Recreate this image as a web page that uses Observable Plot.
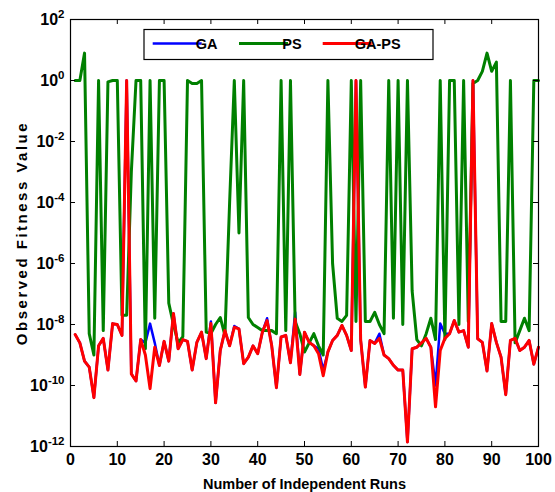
<!DOCTYPE html>
<html><head><meta charset="utf-8">
<script src="https://cdn.jsdelivr.net/npm/d3@7"></script>
<script src="https://cdn.jsdelivr.net/npm/@observablehq/plot@0.6"></script>
<style>
body{margin:0;background:#fff}
svg text{font-family:"Liberation Sans",Arial,sans-serif;font-weight:bold;fill:#000}
g[aria-label="x-axis tick label"] text, g[aria-label="y-axis tick label"] text{font-family:"Liberation Sans Narrow","Arial Narrow","Liberation Sans",sans-serif;font-size:16px}
</style></head><body><div id="chart"></div><script>
const runs = d3.range(1, 101);
const seriesNames = ["GA", "PS", "GA-PS"];
const seriesColors = ["#0000ff", "#008000", "#ff0000"];
const xTicks = [0, 10, 20, 30, 40, 50, 60, 70, 80, 90, 100];
const yTicks = [1e-12, 1e-10, 1e-8, 1e-6, 1e-4, 1e-2, 1e0, 1e2];

const gapsValues = [
 4.7e-9, 2.5e-9, 6.3e-10, 4.0e-10, 4.0e-11, 2.0e-9, 3.5e-9, 3.2e-10, 1.07e-8, 1.0e-8,
 4.4e-9, 1.0, 2.4e-10, 1.4e-10, 3.2e-9, 1.0e-9, 7.9e-11, 1.8e-9, 4.5e-10, 2.8e-9,
 6.3e-10, 2.3e-8, 1.6e-9, 3.2e-9, 2.8e-9, 3.2e-10, 2.6e-9, 5.6e-9, 7.6e-10, 1.07e-8,
 2.7e-11, 1.4e-9, 6.3e-9, 2.0e-9, 8.1e-9, 7.2e-9, 5.2e-10, 8.5e-10, 2.0e-9, 1.1e-9,
 5.6e-9, 1.35e-8, 2.0e-9, 8.5e-11, 3.9e-9, 4.4e-9, 5.6e-10, 1.5e-8, 2.3e-10, 5.6e-9,
 2.6e-9, 2.0e-9, 1.1e-9, 2.1e-10, 1.26e-9, 3.0e-9, 4.4e-9, 9.3e-9, 4.4e-9, 1.4e-9,
 1.0, 3.2e-9, 8.9e-11, 3.0e-9, 2.4e-9, 3.5e-9, 1.0e-9, 7.6e-10, 4.6e-10, 3.2e-10,
 3.2e-10, 1.4e-12, 1.6e-9, 1.8e-9, 2.5e-9, 3.5e-9, 1.8e-9, 2.0e-11, 1.4e-9, 3.5e-9,
 5.0e-9, 1.35e-8, 5.6e-9, 6.3e-9, 1.8e-9, 1.0, 3.4e-9, 2.6e-9, 3.0e-10, 1.07e-8,
 2.6e-9, 8.5e-10, 5.0e-11, 3.0e-9, 3.5e-9, 1.4e-9, 1.8e-9, 3.0e-9, 5.0e-10, 1.8e-9
];

const gaValues = [
 4.7e-9, 2.5e-9, 6.3e-10, 4.0e-10, 4.0e-11, 2.0e-9, 3.5e-9, 3.2e-10, 1.07e-8, 1.0e-8,
 4.4e-9, 1.0, 2.4e-10, 1.4e-10, 3.2e-9, 2.5e-9, 1.07e-8, 2.5e-9, 4.5e-10, 2.8e-9,
 6.3e-10, 2.3e-8, 1.6e-9, 3.2e-9, 2.8e-9, 3.2e-10, 2.6e-9, 5.6e-9, 7.6e-10, 1.26e-8,
 2.7e-11, 1.4e-9, 6.3e-9, 2.0e-9, 8.9e-9, 7.2e-9, 5.2e-10, 8.5e-10, 2.0e-9, 1.1e-9,
 5.6e-9, 1.6e-8, 2.0e-9, 8.5e-11, 3.9e-9, 4.4e-9, 5.6e-10, 2.5e-8, 2.3e-10, 5.6e-9,
 2.6e-9, 2.0e-9, 1.6e-9, 3.2e-10, 1.26e-9, 3.0e-9, 4.4e-9, 9.3e-9, 4.4e-9, 1.4e-9,
 1.0, 3.2e-9, 8.9e-11, 3.0e-9, 2.4e-9, 5.0e-9, 1.0e-9, 7.6e-10, 4.6e-10, 3.2e-10,
 3.2e-10, 1.4e-12, 1.6e-9, 1.8e-9, 2.5e-9, 3.5e-9, 1.8e-9, 1.0e-10, 1.07e-8, 5.0e-9,
 5.0e-9, 1.35e-8, 5.6e-9, 6.3e-9, 1.8e-9, 1.0, 3.4e-9, 2.6e-9, 3.0e-10, 1.07e-8,
 2.6e-9, 8.5e-10, 5.0e-11, 3.0e-9, 3.5e-9, 1.4e-9, 1.8e-9, 3.0e-9, 5.0e-10, 1.8e-9
];

const psValues = [
 1.0, 1.0, 7.9, 5.0e-9, 1.0e-9, 1.0, 6.3e-9, 0.9, 1.0, 1.0,
 2.0e-8, 2.0e-8, 1.0e-3, 1.0, 1.0, 1.6e-9, 1.0, 1.6e-8, 1.0, 1.0,
 5.0e-8, 1.0e-8, 2.5e-9, 4.0e-9, 1.0, 0.8, 0.8, 1.0, 5.6e-9, 5.0e-9,
 1.0e-8, 1.7e-8, 4.4e-9, 1.0e-4, 1.0, 1.0e-5, 1.0, 1.7e-8, 1.0e-8, 7.9e-9,
 6.3e-9, 6.3e-9, 6.3e-9, 5.0e-9, 1.0, 6.3e-9, 1.0, 1.26e-8, 5.0e-9, 1.26e-9,
 2.5e-9, 5.0e-9, 2.0e-9, 1.0e-9, 1.0, 1.0e-6, 1.6e-8, 1.26e-8, 2.0e-8, 1.0,
 1.26e-8, 1.0, 1.26e-8, 1.26e-8, 2.5e-8, 1.0e-8, 5.0e-9, 1.0, 1.6e-8, 1.0,
 1.0e-8, 1.0, 1.26e-7, 3.2e-9, 2.0e-9, 5.0e-9, 1.6e-8, 3.2e-9, 1.0, 3.2e-9,
 1.0, 1.0, 1.0e-8, 1.0, 1.26e-8, 0.8, 1.0, 2.0, 7.9, 2.0,
 4.0, 1.26e-8, 1.26e-8, 1.0, 2.5e-9, 6.3e-9, 1.6e-8, 6.3e-9, 1.0, 1.0
];

const seriesValues = [gaValues, psValues, gapsValues];
const rows = (vals) => runs.map((r, i) => ({run: r, value: vals[i]}));

const W = 555, H = 492, mL = 70, mR = 17, mT = 19, mB = 46;
const iw = W - mL - mR, ih = H - mT - mB, tickLen = 5;

const chart = Plot.plot({
  width: W, height: H,
  marginLeft: mL, marginRight: mR, marginTop: mT, marginBottom: mB,
  style: {background: "white", color: "black", fontSize: "15px", overflow: "visible"},
  x: {domain: [0, 100]},
  y: {type: "log", domain: [1e-12, 1e2]},
  marks: [
    ...seriesValues.map((vals, i) => Plot.line(rows(vals), {
      x: "run", y: "value", stroke: seriesColors[i], strokeWidth: i === 0 ? 2.5 : 3, strokeLinejoin: "round"
    })),
    Plot.ruleX(xTicks, {insetTop: ih - tickLen, stroke: "black"}),
    Plot.ruleX(xTicks, {insetBottom: ih - tickLen, stroke: "black"}),
    Plot.ruleY(yTicks, {insetRight: iw - tickLen, stroke: "black"}),
    Plot.ruleY(yTicks, {insetLeft: iw - tickLen, stroke: "black"}),
    Plot.frame({stroke: "black", strokeWidth: 1.2}),
    Plot.axisX(xTicks, {tickSize: 0, tickPadding: 7, tickFormat: d => String(d),
      label: "Number of Independent Runs", labelAnchor: "center", labelOffset: 42, labelArrow: "none"}),
    Plot.axisY(yTicks, {tickSize: 0, tickPadding: 6,
      tickFormat: d => "10^" + String(Math.round(Math.log10(d))),
      label: "Observed Fitness Value", labelAnchor: "center", labelOffset: 54, labelArrow: "none"})
  ]
});
document.getElementById("chart").appendChild(chart);

const svg = d3.select(chart);
// superscript exponents on y tick labels
svg.selectAll('g[aria-label="y-axis tick label"] text').each(function () {
  const t = d3.select(this);
  const [base, expo] = t.text().split("^");
  t.text(null);
  t.append("tspan").text(base);
  t.append("tspan").attr("dy", "-0.6em").attr("font-size", "11.5px").text(expo);
});
svg.selectAll('g[aria-label="x-axis label"] text').style("font-size", "14.5px");
svg.selectAll('g[aria-label="y-axis label"] text').style("font-size", "15px").style("letter-spacing", "2.5px");

const legendLineX = [152.7, 239, 322.7];
const legendTextX = [206.7, 292, 377.7];
const legendBox = {x: 144, y: 29.5, w: 289, h: 30};
const lg = svg.append("g").attr("font-size", "14.5px");
lg.append("rect").attr("x", legendBox.x).attr("y", legendBox.y)
  .attr("width", legendBox.w).attr("height", legendBox.h)
  .attr("fill", "white").attr("stroke", "black").attr("stroke-width", 1.2);
const lineY = legendBox.y + 14;
seriesNames.forEach((name, i) => {
  lg.append("line").attr("x1", legendLineX[i]).attr("x2", legendLineX[i] + 49)
    .attr("y1", lineY).attr("y2", lineY)
    .attr("stroke", seriesColors[i]).attr("stroke-width", i === 0 ? 2.5 : 3);
  lg.append("text").attr("x", legendTextX[i]).attr("y", lineY + 5.5).text(name);
});
</script></body></html>
